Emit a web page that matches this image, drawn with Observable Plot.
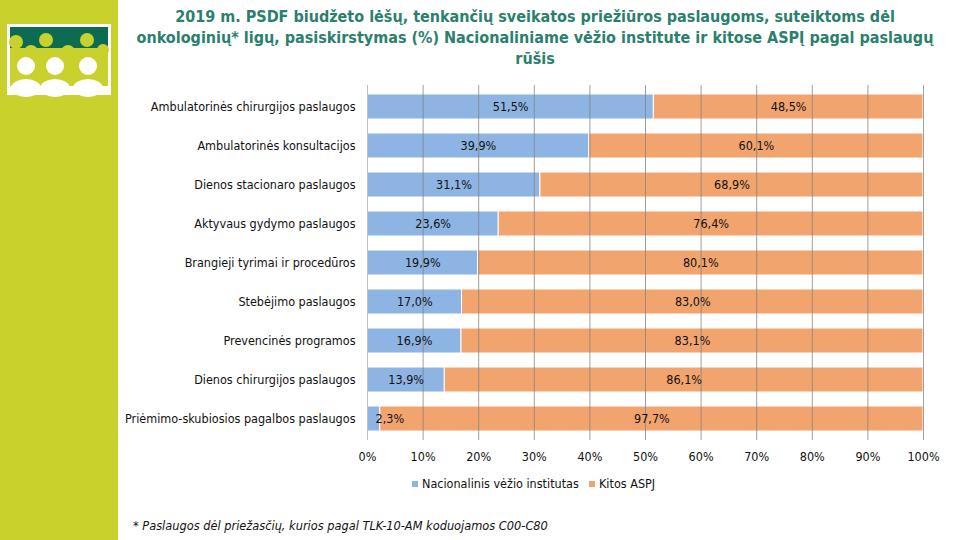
<!DOCTYPE html>
<html>
<head>
<meta charset="utf-8">
<script src="https://cdn.jsdelivr.net/npm/d3@7"></script>
<script src="https://cdn.jsdelivr.net/npm/@observablehq/plot@0.6"></script>
<style>
  html, body { margin: 0; padding: 0; background: #fff; }
  #page { position: relative; width: 960px; height: 540px; overflow: hidden; background: #fff; }
  #strip { position: absolute; left: 0; top: 0; width: 118px; height: 540px; background: #c9d22d; }
  #logo { position: absolute; left: 0; top: 0; }
  #title { position: absolute; left: 118px; width: 834px; top: 6px; text-align: center; white-space: nowrap;
    font-family: "DejaVu Sans Condensed", sans-serif; font-weight: bold;
    font-size: 16px; line-height: 21px; color: #2b7f6d; }
  #chart { position: absolute; left: 118px; top: 80px; }
  #legend { position: absolute; left: 0; width: 960px; top: 476px; text-align: left;
    font-family: "DejaVu Sans Condensed", sans-serif; font-size: 12.5px; color: #111; }
  #legend .item { position: absolute; white-space: nowrap; }
  #legend .sw { display: inline-block; width: 6px; height: 6px; margin-right: 4px; vertical-align: 1px; }
  #note { position: absolute; left: 133px; top: 519px; font-family: "DejaVu Sans", sans-serif;
    font-style: italic; font-size: 11.4px; color: #111; white-space: nowrap; }
</style>
</head>
<body>
<div id="page">
  <div id="strip"></div>
  <svg id="logo" width="118" height="120">
    <rect x="7" y="24" width="104" height="71" fill="#fff"/>
    <rect x="10" y="27" width="98" height="65" fill="#c9d22d"/>
    <rect x="10" y="27" width="98" height="27" fill="#0d6b52"/>
    <g fill="#c9d22d">
      <circle cx="16" cy="42" r="7"/><circle cx="46" cy="40" r="7"/><circle cx="87" cy="40" r="7"/>
      <circle cx="31" cy="52" r="7"/><circle cx="68" cy="52" r="7"/><circle cx="103" cy="50" r="6"/>
      <rect x="10" y="48" width="98" height="12"/>
    </g>
    <g fill="#fff">
      <circle cx="26" cy="66" r="9"/><circle cx="55" cy="66" r="9"/><circle cx="88" cy="66" r="9"/>
      <ellipse cx="26" cy="88" rx="15" ry="9"/><ellipse cx="55" cy="88" rx="15" ry="9"/><ellipse cx="88" cy="88" rx="15" ry="9"/>
      <rect x="10" y="86" width="98" height="6"/>
    </g>
  </svg>
  <div id="title">2019 m. PSDF biudžeto lėšų, tenkančių sveikatos priežiūros paslaugoms, suteiktoms dėl<br>onkologinių* ligų, pasiskirstymas (%) Nacionaliniame vėžio institute ir kitose ASPĮ pagal paslaugų<br>rūšis</div>
  <div id="chart"></div>
  <div id="legend">
    <span class="item" style="left:412px"><span class="sw" style="background:#8db4e2"></span>Nacionalinis vėžio institutas</span>
    <span class="item" style="left:589px"><span class="sw" style="background:#f2a46f"></span>Kitos ASPJ</span>
  </div>
  <div id="note">* Paslaugos dėl priežasčių, kurios pagal TLK-10-AM koduojamos C00-C80</div>
</div>
<script>
const categories = [
  "Ambulatorinės chirurgijos paslaugos",
  "Ambulatorinės konsultacijos",
  "Dienos stacionaro paslaugos",
  "Aktyvaus gydymo paslaugos",
  "Brangieji tyrimai ir procedūros",
  "Stebėjimo paslaugos",
  "Prevencinės programos",
  "Dienos chirurgijos paslaugos",
  "Priėmimo-skubiosios pagalbos paslaugos"
];
const seriesNames = ["Nacionalinis vėžio institutas", "Kitos ASPJ"];
const nviValues = [51.5, 39.9, 31.1, 23.6, 19.9, 17.0, 16.9, 13.9, 2.3];
const otherValues = [48.5, 60.1, 68.9, 76.4, 80.1, 83.0, 83.1, 86.1, 97.7];
const xTicks = [0, 10, 20, 30, 40, 50, 60, 70, 80, 90, 100];
const colors = ["#8db4e2", "#f2a46f"];

const rows = [];
categories.forEach((c, i) => {
  rows.push({category: c, series: seriesNames[0], value: nviValues[i], x1: 0, x2: nviValues[i]});
  rows.push({category: c, series: seriesNames[1], value: otherValues[i], x1: nviValues[i], x2: nviValues[i] + otherValues[i]});
});
rows.forEach(d => d.mid = (d.x1 + d.x2) / 2);
const fmt = v => v.toFixed(1).replace(".", ",") + "%";
const bigLabels = rows.filter(d => d.value >= 5);
const smallLabels = rows.filter(d => d.value < 5);
const font = '"DejaVu Sans Condensed", sans-serif';

const chart = Plot.plot({
  width: 842,
  height: 392,
  marginLeft: 249,
  marginRight: 37,
  marginTop: 5,
  marginBottom: 32,
  style: {fontFamily: font, fontSize: "12.5px", color: "#111", background: "transparent"},
  x: {domain: [0, 100], ticks: xTicks, tickSize: 0, tickPadding: 12, tickFormat: d => d + "%", label: null},
  y: {domain: categories, paddingInner: 0.37, paddingOuter: 0.185, tickSize: 0, tickPadding: 12, label: null},
  color: {domain: seriesNames, range: colors},
  marks: [
    Plot.barX(rows, {x1: "x1", x2: "x2", y: "category", fill: "series", stroke: "white", strokeWidth: 1}),
    Plot.ruleX(xTicks.filter(t => t > 0), {stroke: "#7f7f7f", strokeWidth: 1, strokeOpacity: 0.75}),
    Plot.ruleX([0], {stroke: "#bfbfbf", strokeWidth: 1}),
    Plot.text(bigLabels, {x: "mid", y: "category", text: d => fmt(d.value), fill: "#111", fontSize: 12.5}),
    Plot.text(smallLabels, {x: "x1", y: "category", text: d => fmt(d.value), fill: "#111", fontSize: 12.5, textAnchor: "start", dx: 8})
  ]
});
document.getElementById("chart").appendChild(chart);
</script>
</body>
</html>
